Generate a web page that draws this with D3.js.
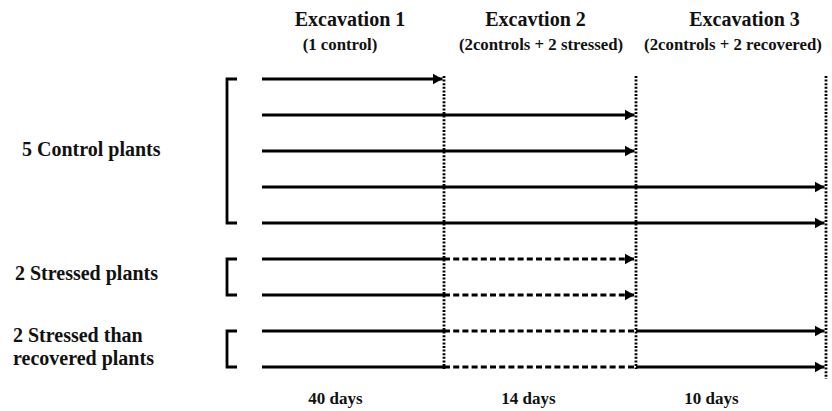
<!DOCTYPE html>
<html lang="en">
<head>
	<title>Excavation design</title>
	<script src="https://d3js.org/d3.v7.min.js" charset="utf-8"></script>
	<style>
		body {
			margin: 0;
			background: #fff;
		}
		svg text {
			font-family: "Liberation Serif", "DejaVu Serif", "Times New Roman", serif;
			font-weight: bold;
			fill: #111;
		}
	</style>
</head>
<body>
	<script>
	// Width and Height of the whole figure
	var width = 832;
	var height = 411;

	// phase boundaries (start, excavation 1, 2, 3)
	var boundaries = [0, 1, 2, 3];
	var excavTitles = ["Excavation 1", "Excavtion 2", "Excavation 3"];
	var excavSubs = ["(1 control)", "(2controls + 2 stressed)", "(2controls + 2 recovered)"];
	var durations = ["40 days", "14 days", "10 days"];

	// plant groups and their label lines
	var groupLabels = [["5 Control plants"], ["2 Stressed plants"], ["2 Stressed than", "recovered plants"]];
	// which group every plant row belongs to
	var plantGroup = [0, 0, 0, 0, 0, 1, 1, 2, 2];
	// line style of each phase a plant goes through (s = solid, d = dashed)
	var plantPhases = [
		["s"],
		["s", "s"],
		["s", "s"],
		["s", "s", "s"],
		["s", "s", "s"],
		["s", "d"],
		["s", "d"],
		["s", "d", "s"],
		["s", "d", "s"]
	];

	var svg = d3.select("body")
		.append("svg")
		.attr("width", width)
		.attr("height", height);

	var x = d3.scaleLinear()
		.domain(boundaries)
		.range([262, 444, 636, 826]);

	var y = d3.scalePoint()
		.domain(d3.range(plantGroup.length))
		.range([79, 367]);

	// arrow head
	svg.append("defs").append("marker")
		.attr("id", "arrow")
		.attr("viewBox", "0 0 10 12")
		.attr("refX", 10)
		.attr("refY", 6)
		.attr("markerWidth", 10)
		.attr("markerHeight", 12)
		.attr("markerUnits", "userSpaceOnUse")
		.attr("orient", "auto")
		.append("path")
		.attr("d", "M0,0.5 L10,6 L0,11.5 Z")
		.attr("fill", "#000");

	// dotted excavation lines
	svg.selectAll(".vline")
		.data(boundaries.slice(1))
		.enter()
		.append("line")
		.attr("class", "vline")
		.attr("x1", function(d) { return x(d); })
		.attr("x2", function(d) { return x(d); })
		.attr("y1", y(0) - 3)
		.attr("y2", function(d, i) { return i == 2 ? y(8) + 12 : y(8) + 2; })
		.attr("stroke", "#000")
		.attr("stroke-width", 2.8)
		.attr("stroke-dasharray", "2,1.6");

	// plant timelines
	var segs = [];
	plantPhases.forEach(function(ph, row) {
		ph.forEach(function(style, k) {
			segs.push({ row: row, k: k, style: style, last: k == ph.length - 1 });
		});
	});

	svg.selectAll(".seg")
		.data(segs)
		.enter()
		.append("line")
		.attr("class", "seg")
		.attr("x1", function(d) { return x(d.k); })
		.attr("x2", function(d) { return d.last ? x(d.k + 1) - 1.5 : x(d.k + 1); })
		.attr("y1", function(d) { return y(d.row); })
		.attr("y2", function(d) { return y(d.row); })
		.attr("stroke", "#000")
		.attr("stroke-width", 2.8)
		.attr("stroke-dasharray", function(d) { return d.style == "d" ? "6,3.2" : null; })
		.attr("marker-end", function(d) { return d.last ? "url(#arrow)" : null; });

	// brackets round each group
	var groups = groupLabels.map(function(lab, gi) {
		var rows = plantGroup.map(function(g, i) { return g == gi ? i : -1; }).filter(function(i) { return i >= 0; });
		return { label: lab, top: y(d3.min(rows)), bottom: y(d3.max(rows)) };
	});

	svg.selectAll(".bracket")
		.data(groups)
		.enter()
		.append("path")
		.attr("class", "bracket")
		.attr("d", function(d) {
			return "M237," + d.top + " H227 V" + d.bottom + " H237";
		})
		.attr("fill", "none")
		.attr("stroke", "#000")
		.attr("stroke-width", 2.8);

	// group labels
	var labelX = [22, 15, 13];
	var labelDy = [5, 3, -7];

	var lab = svg.selectAll(".glabel")
		.data(groups)
		.enter()
		.append("text")
		.attr("class", "glabel")
		.attr("x", function(d, i) { return labelX[i]; })
		.attr("y", function(d, i) { return (d.top + d.bottom) / 2 + labelDy[i]; })
		.attr("font-size", 20);

	lab.selectAll("tspan")
		.data(function(d) { return d.label; })
		.enter()
		.append("tspan")
		.attr("x", function() { return d3.select(this.parentNode).attr("x"); })
		.attr("dy", function(d, i) { return i == 0 ? 0 : 23; })
		.text(function(d) { return d; });

	// excavation headings
	var titleDx = [-3, -4.5, 13.5];
	var subDx = [-13, 1, 2];
	var dayDx = [-17.5, -11.5, -19.5];

	svg.selectAll(".etitle")
		.data(excavTitles)
		.enter()
		.append("text")
		.attr("class", "etitle")
		.attr("x", function(d, i) { return (x(i) + x(i + 1)) / 2 + titleDx[i]; })
		.attr("y", 26)
		.attr("text-anchor", "middle")
		.attr("font-size", 20)
		.text(function(d) { return d; });

	svg.selectAll(".esub")
		.data(excavSubs)
		.enter()
		.append("text")
		.attr("class", "esub")
		.attr("x", function(d, i) { return (x(i) + x(i + 1)) / 2 + subDx[i]; })
		.attr("y", 50)
		.attr("text-anchor", "middle")
		.attr("font-size", 16.8)
		.text(function(d) { return d; });

	svg.selectAll(".days")
		.data(durations)
		.enter()
		.append("text")
		.attr("class", "days")
		.attr("x", function(d, i) { return (x(i) + x(i + 1)) / 2 + dayDx[i]; })
		.attr("y", 404)
		.attr("text-anchor", "middle")
		.attr("font-size", 17)
		.text(function(d) { return d; });
	</script>
</body>
</html>
